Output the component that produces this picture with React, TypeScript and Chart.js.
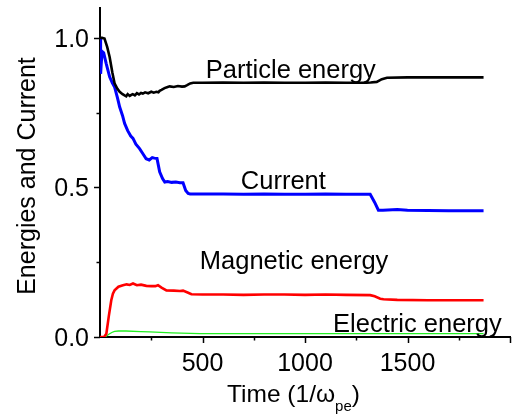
import React, { useEffect, useRef } from "react";
import { Chart, registerables } from "chart.js";

Chart.register(...registerables);

// ---- data (time in 1/ω_pe, values normalized) ----
const particleT = [0, 10, 22, 35, 47, 60, 71, 85, 96, 110, 120, 128, 135, 145, 155, 160, 170, 180, 190, 200, 209, 220, 235, 250, 262, 275, 285, 291, 300, 315, 330, 340, 360, 380, 400, 413, 425, 440, 455, 500, 600, 700, 800, 900, 1000, 1100, 1200, 1300, 1320, 1350, 1375, 1400, 1500, 1600, 1700, 1800, 1871];
const particleV = [1.0, 1.0, 0.998, 0.97, 0.936, 0.885, 0.848, 0.83, 0.82, 0.812, 0.808, 0.805, 0.812, 0.806, 0.81, 0.812, 0.808, 0.815, 0.811, 0.816, 0.814, 0.818, 0.815, 0.82, 0.817, 0.82, 0.818, 0.823, 0.826, 0.832, 0.836, 0.838, 0.836, 0.839, 0.837, 0.838, 0.842, 0.848, 0.85, 0.85, 0.851, 0.85, 0.851, 0.85, 0.85, 0.851, 0.85, 0.85, 0.851, 0.853, 0.862, 0.867, 0.868, 0.868, 0.868, 0.868, 0.868];

const currentT = [0, 3, 10, 18, 30, 47, 60, 71, 85, 96, 110, 120, 135, 150, 161, 175, 193, 210, 225, 240, 255, 265, 278, 291, 305, 316, 330, 350, 370, 390, 405, 418, 430, 440, 500, 600, 700, 800, 900, 1000, 1100, 1200, 1300, 1318, 1340, 1358, 1380, 1450, 1500, 1600, 1700, 1800, 1871];
const currentV = [1.0, 0.88, 0.955, 0.95, 0.915, 0.87, 0.85, 0.836, 0.8, 0.769, 0.74, 0.714, 0.69, 0.672, 0.664, 0.645, 0.63, 0.612, 0.596, 0.592, 0.6, 0.598, 0.597, 0.552, 0.53, 0.518, 0.52, 0.517, 0.518, 0.516, 0.516, 0.49, 0.48, 0.478, 0.478, 0.478, 0.477, 0.478, 0.477, 0.477, 0.478, 0.477, 0.477, 0.477, 0.45, 0.424, 0.424, 0.426, 0.424, 0.423, 0.422, 0.422, 0.422];

const magneticT = [0, 20, 31, 43, 55, 63, 71, 90, 112, 130, 145, 161, 180, 200, 226, 250, 270, 283, 300, 324, 360, 390, 405, 430, 446, 500, 600, 700, 800, 900, 1000, 1100, 1200, 1318, 1340, 1367, 1383, 1450, 1600, 1750, 1871];
const magneticV = [0, 0, 0.011, 0.07, 0.123, 0.145, 0.156, 0.168, 0.173, 0.176, 0.174, 0.179, 0.173, 0.175, 0.171, 0.17, 0.17, 0.173, 0.165, 0.156, 0.155, 0.154, 0.155, 0.148, 0.143, 0.142, 0.142, 0.141, 0.142, 0.142, 0.141, 0.142, 0.141, 0.14, 0.136, 0.128, 0.126, 0.124, 0.123, 0.123, 0.123];

const electricT = [0, 25, 45, 60, 71, 90, 127, 200, 242, 350, 487, 700, 1000, 1300, 1600, 1871];
const electricV = [0, 0, 0.01, 0.016, 0.019, 0.02, 0.02, 0.018, 0.017, 0.014, 0.011, 0.011, 0.011, 0.011, 0.011, 0.011];

const xTickValues = [500, 1000, 1500];
const xTickLabels = ["500", "1000", "1500"];
const yTickValues = [0, 0.5, 1.0];
const yTickLabels = ["0.0", "0.5", "1.0"];

const curveLabels = ["Particle energy", "Current", "Magnetic energy", "Electric energy"];
const curveLabelX = [516, 687, 487, 1137];
const curveLabelY = [0.865, 0.494, 0.226, 0.016];

const FONT = "'Liberation Sans', Arial, sans-serif";

const toPoints = (t: number[], v: number[]) => t.map((x, i) => ({ x, y: v[i] }));

const decorPlugin = {
  id: "decor",
  afterDraw(chart: any) {
    const ctx = chart.ctx;
    const xs = chart.scales.x;
    const ys = chart.scales.y;
    const area = chart.chartArea;
    ctx.save();
    ctx.strokeStyle = "#000";
    ctx.lineWidth = 1.5;
    // x ticks
    for (let v = 250; v <= 2000; v += 250) {
      const px = Math.round(xs.getPixelForValue(v)) + 0.5;
      const len = v % 500 === 0 ? 6 : 3.5;
      ctx.beginPath();
      ctx.moveTo(px, area.bottom);
      ctx.lineTo(px, area.bottom + len);
      ctx.stroke();
    }
    // y ticks
    for (let i = 0; i <= 4; i++) {
      const v = i * 0.25;
      const py = Math.round(ys.getPixelForValue(v)) + 0.5;
      const len = i % 2 === 0 ? 6 : 3.5;
      ctx.beginPath();
      ctx.moveTo(area.left, py);
      ctx.lineTo(area.left - len, py);
      ctx.stroke();
    }
    ctx.fillStyle = "#000";
    ctx.font = `25px ${FONT}`;
    // tick labels
    ctx.textAlign = "center";
    ctx.textBaseline = "alphabetic";
    xTickValues.forEach((v, i) => {
      ctx.fillText(xTickLabels[i], xs.getPixelForValue(v), area.bottom + 34);
    });
    ctx.textAlign = "right";
    yTickValues.forEach((v, i) => {
      ctx.fillText(yTickLabels[i], area.left - 11, ys.getPixelForValue(v) + 9);
    });
    // curve labels
    ctx.textAlign = "left";
    ctx.font = `25.5px ${FONT}`;
    curveLabels.forEach((s, i) => {
      ctx.fillText(s, xs.getPixelForValue(curveLabelX[i]), ys.getPixelForValue(curveLabelY[i]));
    });
    // x title with subscript
    const base = 402;
    let x = 227;
    const main = "Time (1/\u03c9";
    ctx.font = `24.5px ${FONT}`;
    ctx.fillText(main, x, base);
    x += ctx.measureText(main).width;
    ctx.font = `15px ${FONT}`;
    ctx.fillText("pe", x, base + 9);
    x += ctx.measureText("pe").width;
    ctx.font = `24.5px ${FONT}`;
    ctx.fillText(")", x, base);
    // y title
    ctx.save();
    ctx.translate(35, 176);
    ctx.rotate(-Math.PI / 2);
    ctx.textAlign = "center";
    ctx.font = `25px ${FONT}`;
    ctx.fillText("Energies and Current", 0, 0);
    ctx.restore();
    ctx.restore();
  },
};

export default function App() {
  const ref = useRef<HTMLCanvasElement | null>(null);
  useEffect(() => {
    if (!ref.current) return;
    const chart = new Chart(ref.current, {
      type: "line",
      data: {
        datasets: [
          { label: "Particle energy", data: toPoints(particleT, particleV), borderColor: "#000000", borderWidth: 2.6 },
          { label: "Current", data: toPoints(currentT, currentV), borderColor: "#0000ff", borderWidth: 3 },
          { label: "Magnetic energy", data: toPoints(magneticT, magneticV), borderColor: "#ff0000", borderWidth: 2.6 },
          { label: "Electric energy", data: toPoints(electricT, electricV), borderColor: "#22ee22", borderWidth: 1.3 },
        ].map((d) => ({ ...d, pointRadius: 0, fill: false, tension: 0 })),
      },
      options: {
        responsive: false,
        animation: false,
        layout: { padding: { top: 8, right: 5, left: 0, bottom: 0 } },
        plugins: { legend: { display: false }, tooltip: { enabled: false } },
        scales: {
          x: {
            type: "linear",
            min: 0,
            max: 2000,
            afterFit: (s: any) => { s.height = 78; s.paddingLeft = 0; s.paddingRight = 0; },
            grid: { display: false, drawTicks: false },
            border: { display: true, color: "#000", width: 2 },
            ticks: { display: false, stepSize: 500 },
          },
          y: {
            type: "linear",
            min: 0,
            max: 1.1,
            afterFit: (s: any) => { s.width = 100; s.paddingTop = 0; s.paddingBottom = 0; },
            grid: { display: false, drawTicks: false },
            border: { display: true, color: "#000", width: 2 },
            ticks: { display: false, stepSize: 0.5 },
          },
        },
      },
      plugins: [decorPlugin],
    });
    return () => chart.destroy();
  }, []);
  return (
    <div style={{ position: "fixed", left: 0, top: 0, width: 515, height: 415, background: "#fff" }}>
      <canvas ref={ref} width={515} height={415} />
    </div>
  );
}
